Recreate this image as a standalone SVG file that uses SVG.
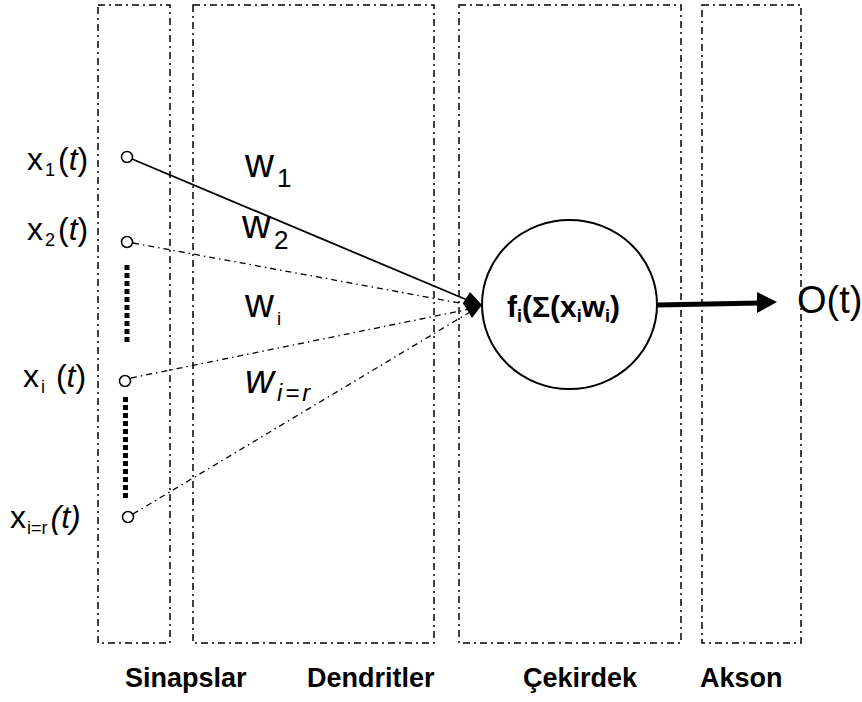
<svg xmlns="http://www.w3.org/2000/svg" width="862" height="702" viewBox="0 0 862 702">
<style>
.box{fill:none;stroke:#000;stroke-width:1.5;stroke-dasharray:7 4 2 4}
.dd{fill:none;stroke:#000;stroke-width:1.3;stroke-dasharray:6 4 1.5 4}
.t{font-family:"Liberation Sans",Arial,sans-serif;fill:#000}
.b{font-family:"Liberation Sans",Arial,sans-serif;font-weight:bold;fill:#000}
.in{fill:#fff;stroke:#000;stroke-width:1.5}
</style>
<rect width="862" height="702" fill="#fff"/>
<g id="regions">
<rect class="box" x="98" y="5" width="72" height="638"/>
<rect class="box" x="193" y="5" width="241" height="638"/>
<rect class="box" x="459" y="5" width="222" height="638"/>
<rect class="box" x="702" y="5" width="99" height="638"/>
</g>
<g id="connectors">
<line x1="132" y1="159" x2="472" y2="302" stroke="#000" stroke-width="1.8"/>
<line class="dd" x1="133" y1="243" x2="470" y2="305"/>
<line class="dd" x1="131" y1="378" x2="470" y2="309"/>
<line class="dd" x1="133" y1="514" x2="470" y2="312"/>
<polygon points="482,305 470,292 463,303 472,318" fill="#000"/>
<line x1="657" y1="305" x2="760" y2="303" stroke="#000" stroke-width="5"/>
<polygon points="757,292 777,302 757,313" fill="#000"/>
<line x1="127" y1="265" x2="127" y2="345" stroke="#000" stroke-width="5" stroke-dasharray="5 3"/>
<line x1="125.5" y1="397" x2="125.5" y2="499" stroke="#000" stroke-width="5" stroke-dasharray="5 3"/>
</g>
<g id="inputs">
<circle class="in" cx="127" cy="157" r="5.5"/>
<circle class="in" cx="127" cy="242" r="5.5"/>
<circle class="in" cx="125" cy="381" r="5.5"/>
<circle class="in" cx="128" cy="517" r="5.5"/>
<text class="t" x="27" y="170" font-size="32">x<tspan font-size="18" dx="2" dy="6">1</tspan><tspan dx="3" dy="-6">(</tspan><tspan font-style="italic">t</tspan>)</text>
<text class="t" x="27" y="240" font-size="32">x<tspan font-size="18" dx="2" dy="6">2</tspan><tspan dx="3" dy="-6">(</tspan><tspan font-style="italic">t</tspan>)</text>
<text class="t" x="23" y="387" font-size="32">x<tspan font-size="18" dx="2" dy="6">i</tspan><tspan dy="-6" dx="2"> (</tspan><tspan font-style="italic">t</tspan>)</text>
<text class="t" x="10" y="528" font-size="32">x<tspan font-size="18" dx="1" dy="6">i=r</tspan><tspan dx="3" dy="-6" font-style="italic">(t)</tspan></text>
</g>
<g id="weights">
<text class="t" x="245" y="177" font-size="40">w<tspan font-size="26" dx="3" dy="10">1</tspan></text>
<text class="t" x="242" y="238" font-size="40">w<tspan font-size="26" dx="3" dy="11">2</tspan></text>
<text class="t" x="245" y="317" font-size="40">w<tspan font-size="19" dx="3" dy="8">i</tspan></text>
<text class="t" x="245" y="393" font-size="40" font-style="italic">w<tspan font-size="24" dx="3" dy="8" letter-spacing="3">i=r</tspan></text>
</g>
<g id="nucleus">
<ellipse cx="569.5" cy="304.5" rx="87.5" ry="84.5" fill="#fff" stroke="#000" stroke-width="2"/>
<text class="b" x="507" y="317" font-size="30">f<tspan font-size="18" dy="5">i</tspan><tspan dy="-5">(Σ(x</tspan><tspan font-size="18" dy="5">i</tspan><tspan dy="-5">w</tspan><tspan font-size="18" dy="5">i</tspan><tspan dy="-5">)</tspan></text>
</g>
<g id="output">
<text class="t" x="797" y="313" font-size="38">O(t)</text>
</g>
<g id="labels">
<text class="b" x="125" y="687" font-size="27">Sinapslar</text>
<text class="b" x="307" y="687" font-size="27">Dendritler</text>
<text class="b" x="523" y="687" font-size="27">Çekirdek</text>
<text class="b" x="700" y="687" font-size="27">Akson</text>
</g>
</svg>
